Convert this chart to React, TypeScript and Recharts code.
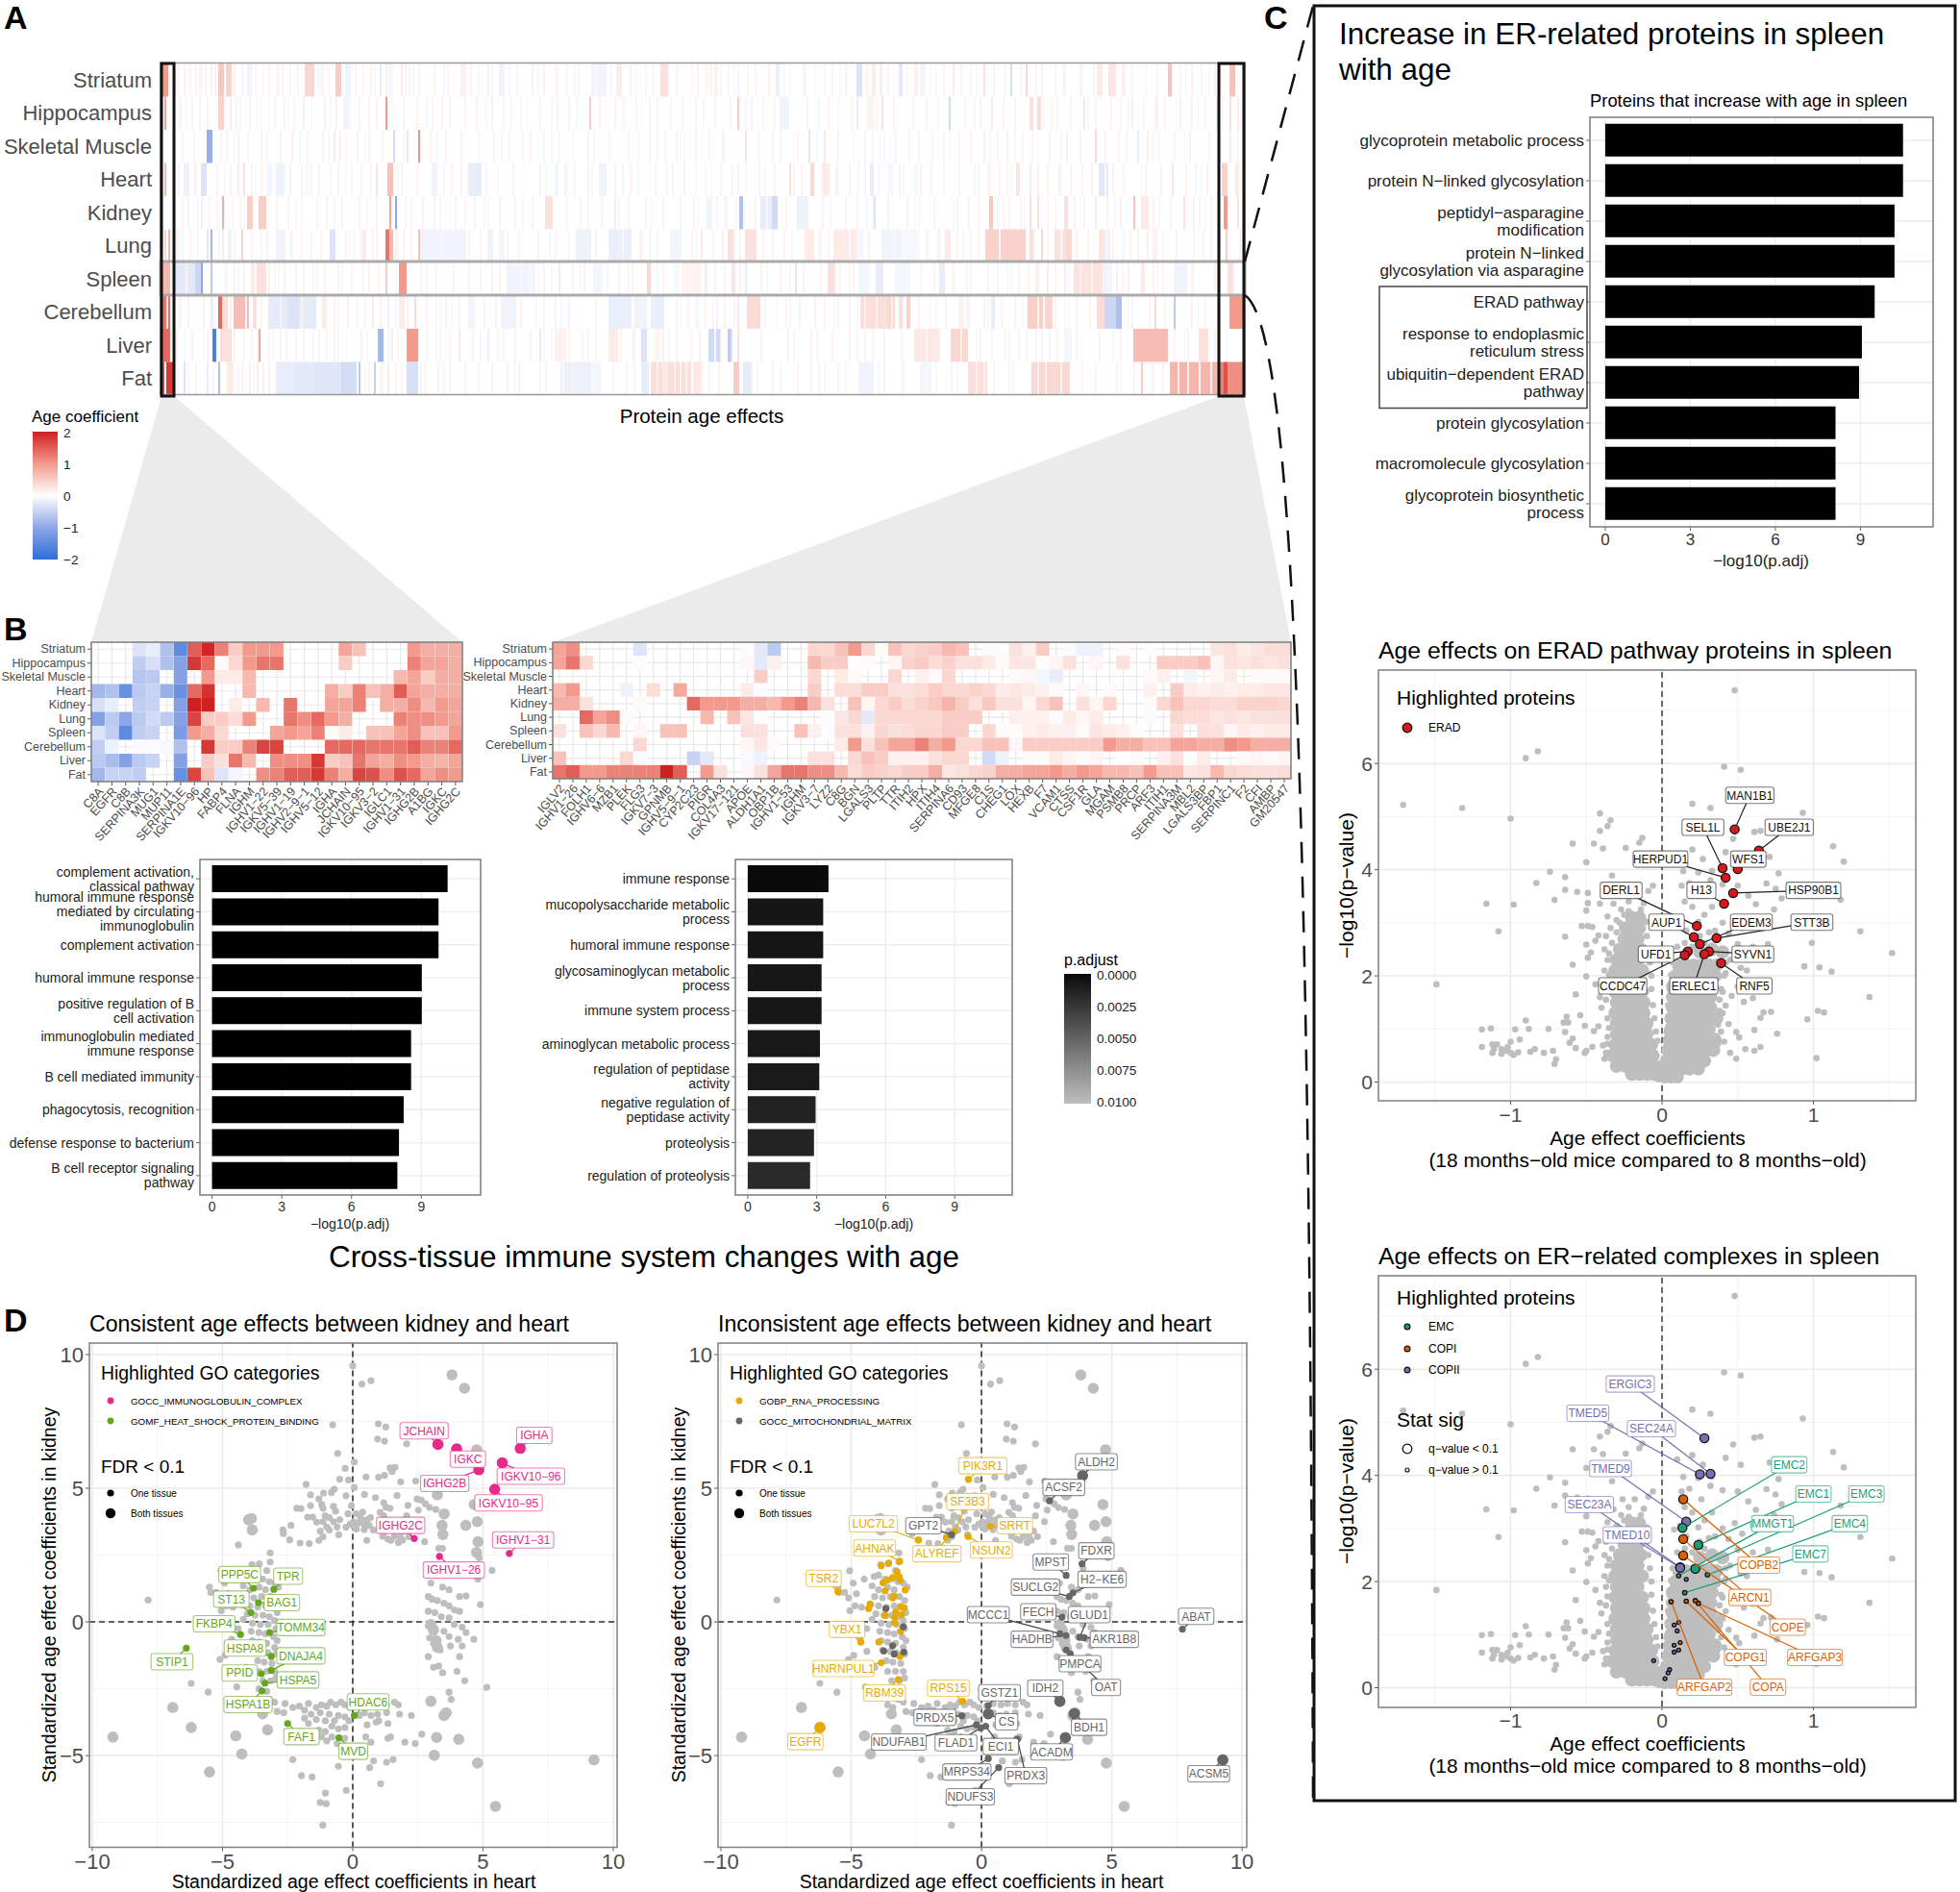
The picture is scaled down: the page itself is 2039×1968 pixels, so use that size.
import { BarChart, Bar, Cell, XAxis, YAxis, CartesianGrid, ScatterChart, Scatter, ReferenceLine } from 'recharts';

const FONT = '"Liberation Sans", Arial, sans-serif';

const tissues = ['Striatum', 'Hippocampus', 'Skeletal Muscle', 'Heart', 'Kidney', 'Lung', 'Spleen', 'Cerebellum', 'Liver', 'Fat'];

// panel A: stripes of the wide heatmap as [first protein rank, number of ranks, age coefficient]
const stripStriatum = [[0,1,-.8],[1,3,1],[9,1,.1],[15,1,.12],[20,1,.12],[26,1,.15],[30,3,.55],[34,3,.45],[45,3,-.12],[53,1,.1],[60,1,.1],[67,1,.12],[75,5,.4],[81,4,-.06],[87,1,.1],[91,3,.5],[96,3,-.12],[105,1,.1],[114,1,-.2],[118,3,-.08],[125,1,.2],[127,1,.12],[156,3,.15],[165,1,.1],[176,3,-.12],[185,1,.1],[205,2,.12],[224,8,-.12],[237,3,.18],[252,1,.1],[256,1,.1],[260,4,.3],[276,1,.1],[283,2,.1],[288,2,.12],[295,1,-.08],[300,1,-.1],[305,1,.1],[320,2,-.18],[327,1,.1],[340,1,.1],[345,1,-.1],[362,3,-.3],[367,1,.12],[370,2,.18],[374,2,.2],[384,2,-.25],[388,1,.1],[392,2,.15],[396,2,-.1],[403,1,.1],[412,1,.2],[421,1,.1],[428,1,.3],[442,1,-.35],[450,1,.4],[455,1,.1],[465,1,.1],[485,1,-.1],[487,3,.2],[493,4,.25],[500,2,.15],[512,1,.1],[524,2,.6],[530,1,.1],[556,3,.6]];
const stripHippocampus = [[0,1,-.4],[2,1,.9],[9,1,-.06],[20,1,-.1],[30,3,.45],[36,1,.2],[41,1,-.08],[50,1,.1],[56,1,-.06],[74,1,-.15],[78,1,.08],[95,3,-.12],[108,1,.15],[117,1,1],[141,1,.1],[150,1,.1],[178,1,.1],[190,1,-.06],[223,1,.5],[240,1,.1],[250,1,-.06],[265,1,.12],[300,1,.5],[322,5,-.12],[362,1,-.2],[368,3,.12],[375,1,.3],[410,1,-.4],[432,1,.2],[452,2,.3],[456,2,.35],[463,1,.12],[480,1,.25],[505,1,-.15],[517,2,.15],[530,1,.15],[543,1,.12],[556,1,.3],[560,1,.2]];
const stripSkeletal = [[24,3,-.9],[34,1,-.12],[45,1,-.08],[90,1,.2],[96,1,.1],[121,1,-.4],[128,1,-.25],[134,1,1.05],[165,1,.1],[173,1,-.1],[214,1,-.06],[254,1,.15],[272,1,.1],[304,1,.3],[337,1,.3],[345,1,.2],[360,1,.08],[374,1,-.08],[410,1,.08],[421,1,.15],[440,1,-.12],[448,1,.1],[486,1,.35],[508,1,-.2],[516,1,.1],[556,1,.2],[560,1,.12]];
const stripHeart = [[0,1,-1.5],[2,1,.7],[12,3,-.15],[21,3,-.3],[40,1,.2],[43,1,.3],[55,3,-.1],[60,5,-.15],[75,3,-.06],[88,1,.1],[99,1,-.1],[112,1,.25],[118,3,.6],[141,3,-.12],[160,7,-.2],[175,1,-.06],[205,2,-.1],[215,1,-.1],[228,4,-.12],[240,1,-.1],[278,1,-.06],[286,1,-.06],[300,1,.15],[304,1,.1],[327,1,.3],[329,1,.1],[338,2,.4],[344,4,.2],[362,2,-.06],[369,2,-.2],[378,3,-.08],[392,2,-.08],[400,2,-.08],[415,1,.12],[430,2,.12],[445,2,.25],[452,1,.2],[456,1,.15],[473,1,.15],[488,5,-.25],[500,2,-.08],[526,1,.25],[538,1,-.1],[552,3,.45],[559,2,.2]];
const stripKidney = [[11,1,.1],[21,1,-.15],[32,1,.8],[45,3,.5],[51,4,.5],[60,1,.12],[81,1,-.1],[119,1,.9],[122,1,-1],[158,1,.1],[170,1,.08],[200,4,.3],[236,1,.2],[270,1,.12],[284,3,-.12],[293,2,-.1],[301,2,-.7],[312,6,-.2],[318,3,-.4],[331,6,-.15],[370,1,-.1],[371,1,-.3],[394,1,.1],[431,2,.55],[438,1,.1],[452,1,.3],[456,1,.3],[470,2,.3],[486,1,.2],[506,1,.6],[510,4,.2],[532,1,.3],[540,1,.15],[553,2,1],[560,1,.3]];
const stripLung = [[0,1,-1.2],[2,1,.4],[4,1,.7],[11,1,-.1],[24,1,-.25],[26,1,-.8],[32,1,.2],[35,2,-.15],[42,1,.45],[60,5,-.12],[88,3,-.3],[100,1,.1],[105,2,.18],[110,1,.15],[117,2,1.3],[119,2,.7],[134,1,.6],[135,24,-.12],[170,3,-.15],[176,3,-.1],[216,8,-.15],[233,12,-.18],[250,1,.12],[265,6,-.1],[281,1,.2],[295,3,.3],[304,6,.3],[318,1,-.08],[328,1,-.08],[335,5,.2],[350,12,.2],[362,4,-.08],[375,10,-.12],[385,10,-.08],[399,1,-.06],[408,3,.2],[429,21,.45],[452,2,.3],[458,1,.4],[465,6,.3],[471,3,.4],[488,3,.25],[491,3,-.15],[500,2,-.08],[508,1,.15],[516,3,.15],[554,1,.5],[561,1,.15]];
const stripSpleen = [[0,1,.3],[1,4,.7],[7,14,-.25],[18,3,-.45],[21,1,-1],[26,1,-.6],[47,2,.2],[50,5,.3],[59,1,.1],[70,1,-.1],[85,1,.15],[117,1,.5],[124,4,1],[152,1,.12],[180,15,-.12],[196,1,.1],[207,1,.2],[225,5,-.1],[232,1,-.1],[253,2,.4],[267,3,-.08],[271,10,.12],[283,1,.2],[297,2,.25],[304,1,-.2],[330,1,.3],[347,4,.3],[363,6,-.1],[372,4,-.2],[382,8,-.1],[405,3,-.2],[440,1,.1],[455,2,.15],[461,1,.2],[470,1,.2],[475,15,.28],[490,5,-.12],[500,1,.1],[510,2,.2],[527,7,-.12],[555,3,.3]];
const stripCerebellum = [[0,1,.4],[1,2,1.3],[3,1,.3],[4,1,1.3],[26,1,-.2],[30,2,1.4],[32,3,.35],[38,8,.65],[48,2,.3],[56,25,-.22],[66,6,-.3],[84,2,.2],[97,1,.15],[110,1,.2],[118,1,-.15],[124,3,.2],[132,1,.35],[143,1,-.08],[160,3,-.12],[177,8,-.13],[195,1,-.06],[205,1,-.1],[233,12,-.18],[247,6,-.13],[255,7,-.18],[278,2,-.1],[289,1,.15],[300,1,.2],[305,7,.35],[320,1,.1],[340,1,.15],[352,1,.12],[364,14,.32],[378,4,.38],[384,3,.3],[388,2,.45],[400,1,.1],[415,3,.12],[432,2,-.2],[451,8,.48],[460,4,.42],[470,1,.1],[487,5,.35],[491,9,-.45],[497,3,-.7],[505,1,.15],[517,1,.4],[527,1,-.6],[556,7,1]];
const stripLiver = [[0,1,-.3],[1,4,1.4],[27,2,-1.7],[31,6,.3],[50,1,.1],[51,1,.9],[70,1,.1],[79,1,-.1],[86,1,-.08],[96,1,-.06],[113,3,-.8],[120,1,.2],[128,6,1],[150,1,.1],[155,1,.2],[170,1,-.15],[197,1,-.2],[205,6,.12],[222,1,.12],[233,5,.2],[250,3,-.3],[257,3,.1],[275,1,.1],[285,6,-.4],[295,2,-.55],[300,1,.3],[370,1,.1],[392,14,.22],[411,9,.4],[432,1,-.08],[450,1,.1],[462,1,-.12],[470,4,-.1],[506,18,.65],[540,5,.32],[554,1,-.06]];
const stripFat = [[0,1,.7],[1,1,1.5],[3,4,1.8],[12,1,-.3],[24,1,-.2],[30,1,-.7],[35,3,.2],[46,1,.2],[50,1,.2],[60,10,-.2],[70,10,-.25],[80,14,-.28],[94,8,-.38],[103,1,-.6],[111,1,-.5],[118,1,.2],[128,6,-.35],[150,1,.1],[180,1,.15],[208,17,-.16],[225,4,-.1],[235,1,.1],[250,4,-.2],[255,6,.32],[261,3,.22],[264,12,.32],[277,4,.22],[298,3,.5],[303,5,-.22],[345,1,.1],[363,8,-.13],[395,6,-.1],[420,10,.32],[453,20,.38],[510,1,.5],[525,26,.72],[551,2,1.2],[553,2,1.6],[555,8,1.1]];
const stripLists = [stripStriatum, stripHippocampus, stripSkeletal, stripHeart, stripKidney, stripLung, stripSpleen, stripCerebellum, stripLiver, stripFat];
const RANKS = 564;

// panel A: thin pale stripes laid over the list above, protein ranks by tissue
const palePink = [
  [7,12,18,23,28,38,42,49,56,63,71,84,101,109,117,129,134,142,149,161,170,181,193,199,211,217,229,244,268,279,286,291,309,316,334,349,356,378,395,407,416,433,447,458,470,478,505,518,536,541,548,551],
  [10,16,24,39,46,59,64,69,85,91,103,112,126,133,146,158,164,172,187,197,206,212,228,236,247,258,271,278,288,296,307,313,336,347,359,372,381,398,418,426,438,444,466,473,486,494,499,511,522,536,549],
  [6,17,31,40,52,62,68,76,84,93,102,108,115,140,148,156,181,192,199,207,222,233,243,262,268,278,285,292,311,322,331,352,366,382,389,401,415,428,435,453,462,471,478,491,498,513,527,535,545],
  [9,18,29,36,47,52,67,73,82,92,104,109,125,133,151,156,183,197,210,222,236,244,257,266,272,291,311,319,333,351,358,366,384,395,407,423,436,440,461,467,479,484,495,512,520,533,544],
  [14,25,37,41,66,73,86,94,103,112,127,136,142,153,163,176,184,193,211,222,229,243,252,261,277,289,309,325,344,356,362,378,388,402,414,420,425,441,447,461,465,475,480,492,499,516,525,537,546],
  [8,15,38,47,55,68,73,83,96,104,112,122,126,130,160,166,180,196,205,226,249,254,276,287,292,301,313,324,343,347,368,398,404,414,421,425,454,461,476,482,495,504,513,521,528,537,546,550],
  [6,13,33,38,43,56,64,74,81,92,99,108,113,135,143,160,172,176,199,214,220,238,245,261,276,279,288,293,301,312,322,334,343,353,360,395,412,419,430,435,446,451,465,478,484,497,503,516,521,536,548],
  [9,14,22,36,52,62,73,90,106,114,128,138,148,155,168,174,187,199,212,226,246,268,274,283,293,314,325,332,345,358,366,372,380,394,408,420,428,437,444,456,465,476,483,505,514,522,536,543,550],
  [8,16,24,38,43,56,62,74,82,90,104,123,138,143,162,175,184,192,203,212,226,239,246,261,268,280,291,312,326,338,349,358,366,376,398,416,426,439,446,455,466,476,488,499,527,534,548],
  [18,34,42,53,56,108,115,122,137,144,158,172,186,200,214,228,242,258,267,273,281,290,307,318,331,342,352,376,386,411,424,428,433,441,456,460,468,479,486,497,506,516,521,529,534,540,546]
];
const paleBlue = [
  [8,21,47,61,83,111,131,147,172,196,215,226,234,247,264,291,298,324,335,353,375,400,424,439,469,479,505,533,545],
  [13,33,52,66,88,98,120,138,169,182,203,216,241,254,282,304,319,342,352,367,391,404,423,459,482,503,528,539,552],
  [11,38,55,72,87,106,126,143,177,188,203,225,248,258,270,293,318,341,370,376,394,407,431,444,468,502,519,532,551],
  [6,17,33,49,64,78,96,123,147,169,200,211,224,248,263,283,297,314,352,373,386,407,425,442,468,491,510,541],
  [7,19,29,43,70,90,107,130,145,168,188,218,238,255,279,299,315,348,367,392,412,435,449,478,496,519,543],
  [9,19,30,52,67,78,98,123,146,177,186,202,212,240,258,278,298,342,358,381,405,417,436,468,492,518,542],
  [34,40,61,79,94,105,122,138,166,187,192,203,218,243,258,284,315,327,358,368,388,402,421,442,472,493,518,537],
  [10,27,44,86,92,102,122,145,151,163,195,208,226,270,287,298,327,350,362,386,403,419,430,448,472,503,522,539],
  [12,22,47,58,65,92,107,118,145,166,178,199,219,245,264,276,288,297,329,341,362,385,405,424,441,458,472,495,532],
  [8,14,27,40,48,106,114,125,135,147,165,184,197,209,224,246,270,285,310,322,338,356,373,385,403,414,443,499,515]
];

// panel B left heatmap: one list per protein, tissues in the order above
const leftProteins = ['C8A','EGFR','C8B','SERPINA3K','MUG1','MUP11','SERPINA1E','IGKV10−96','HP','FABP4','FLNA','IGHM','IGHV1−22','IGKV5−39','IGHV1−19','IGHV2−9−1','IGHV5−12','IGHA','JCHAIN','IGKV10−95','IGKV3−2','IGLC1','IGHV1−31','IGHG2B','A1BG','IGKC','IGHG2C'];
const leftValues = [
  [0,0,0,-.8,-.35,-1.1,-.3,-.55,-.6,-.8],[0,0,0,-.7,-.2,-.6,-.55,-.15,-.75,-.5],[0,0,0,-1.4,0,-1,-1.5,0,-1.1,-.5],
  [-.3,-.55,-.65,-.6,-.55,-.6,-.55,-.05,-.6,-.55],[-.2,-.35,-.6,-.5,-.5,-.4,-.5,-.05,-.5,0],[-.7,-.7,0,-.9,0,-.6,0,-.08,0,0],
  [-1.5,-1.1,-1.1,-1.4,-1.1,-1.1,-1.2,-.7,-1.1,-1.4],[1.5,1.8,0,1.4,2,1.7,1,0,0,1.7],[1.95,1.4,1,1.85,2,.5,.8,1.8,.5,.6],
  [1.2,.05,.2,0,0,.5,.4,.5,.3,-.3],[.5,.4,.2,0,.2,.35,0,.5,1.3,-.1],[1,1,.7,.7,0,1,0,1.2,.7,0],
  [1,1.3,0,0,.7,0,0,1.7,0,1.1],[1,1.3,0,0,0,0,.9,1.7,1.1,1.2],[0,0,0,0,1.3,1.3,1,0,1.1,1.5],
  [0,0,0,0,0,1.1,.9,0,1.1,1.5],[0,0,0,0,0,1.4,1.2,0,1.8,1.8],[0,0,0,.8,.9,1,.05,1.4,.5,1.2],
  [.9,.5,0,.5,.9,.8,.2,1.4,.6,.8],[.6,0,0,1.2,1.2,0,0,1.4,1.3,1.7],[0,0,0,.6,0,0,.6,1.3,.9,1.6],
  [0,0,0,.8,.8,0,.6,1.3,.8,1.1],[0,0,.7,1.5,.8,1.2,.9,1.3,1.1,1.6],[1,1.2,.9,.9,1.1,1.1,1.1,1.5,1,1.4],
  [.8,.9,.5,.8,.7,1.1,.6,1.2,.8,.9],[.8,.9,.8,.8,1,1,.6,1.2,.75,1.1],[.8,.8,.8,.8,.9,.9,1,1.4,.9,1],
];

// panel B right heatmap: one list per tissue
const rightProteins = ['IGLV2','IGHV1−26','FOLH1','IGHV6−6','MZB1','PLEK','FLG3','IGKV7−3','GPNMB','IGHV5−9−1','CYP2C23','PIGR','COL4A3','IGKV17−121','APOE','ALDH1A1','OBP1B','IGHV1−53','IGHM','IGKV3−7','LYZ2','C8G','BGN','LGALS3','PLTP','TTR','ITIH2','HPX','ITIH4','SERPINA6','CD93','MFGE8','C1S','CHEG1','LOX','HEXB','F7','VCAM1','CTSS','CSF1R','GLA','MGAM','PSMB8','PRCP','ARF3','ITIH1','SERPINA3M','MBL2','LGALS3BP','FBP1','SERPINC1','F2','CFI','AMBP','GM20547'];
const rightValues = [
  [.9,1.1,0,0,0,0,-.3,0,0,0,0,0,0,0,-.03,-.25,-.6,0,0,.4,.4,.6,1,.4,.05,.6,.4,.45,.5,.7,.6,0,.05,-.03,.3,.15,.5,0,-.05,-.15,-.15,0,.05,0,-.03,0,0,0,0,.25,.3,.2,.25,.35,.35],
  [.9,1.3,.4,0,0,0,-.02,0,0,0,0,0,0,0,.1,-.25,.15,0,0,.7,.5,.5,.02,.05,0,.1,.45,.5,.35,.45,.3,.3,.2,.05,.25,.25,.03,.1,.3,0,.1,0,.3,0,0,.5,.5,.5,.6,.1,.3,.25,.3,.25,.3],
  [0,0,0,0,0,0,0,0,0,0,0,0,0,0,0,.5,0,0,0,.4,0,.2,.05,0,0,.4,0,.15,.05,.4,0,0,0,0,.05,.1,-.1,-.2,0,0,0,0,0,0,.05,.15,0,-.1,0,.1,.2,0,.05,.05,.05],
  [.7,1,0,0,0,-.15,0,.35,0,.85,0,0,0,0,.2,-.05,0,0,0,.5,0,.35,.35,.5,.5,.3,.3,.35,.5,.4,.4,.45,.4,.2,.25,.2,.15,.05,0,.1,0,.05,0,0,.15,0,.5,.2,.15,.2,.15,.2,.2,.25,.25],
  [.8,.8,.3,0,0,0,.05,0,0,0,1.4,1,1,1,.8,.8,.7,1,1.2,.7,.3,0,.6,.1,.4,.5,.35,.45,.55,.75,.5,.3,.55,.3,.3,.1,.4,.6,0,.3,.1,.4,0,0,.05,.4,.6,.4,.4,.35,.35,.45,.45,.45,.4],
  [0,0,1.4,.9,1.1,.05,0,0,0,0,0,.7,0,.6,.25,-.03,0,0,0,0,-.02,.25,.4,-.25,.4,.4,.4,.4,.4,.5,.5,.5,0,0,.15,.15,.15,-.05,.2,.1,.2,0,0,0,-.05,0,.4,.35,.35,.25,.3,.25,.3,.3,.3],
  [.3,0,.6,.4,.7,0,.1,0,.6,.6,0,0,0,0,.3,.3,0,0,.6,.15,-.03,.3,.3,.15,.4,.3,.35,.4,.4,.5,.5,0,.4,.05,.03,.15,.2,.15,.15,.05,.25,.2,.15,.03,0,0,.3,0,.3,.3,.1,.2,.15,.2,.2],
  [0,0,0,0,0,0,.4,0,0,0,0,0,0,0,.1,.25,.05,0,0,0,0,.2,1,.3,.6,.9,.9,1.2,.8,1,.4,.4,.6,.6,.1,.5,.5,.5,.5,.5,.5,1,.8,.8,.6,.6,.9,.9,.8,.8,1.1,1,.8,.8,.8],
  [.6,0,0,0,0,.4,-.05,0,0,0,-.5,-.25,0,0,-.07,-.15,0,0,0,.3,.3,0,.4,.6,.5,.15,.15,.15,.3,.4,.4,0,-.4,-.15,0,.05,.05,.2,.1,-.05,.1,0,.02,.05,0,.15,.3,-.03,.2,0,0,.05,.1,.05,.1],
  [1.3,1.5,1,1,1.2,1.2,1.2,1.2,2,1.5,0,1,.3,0,.1,.3,.9,1.3,1.3,1.1,1.1,.7,.35,.5,.45,.4,.5,.5,.8,.25,.3,.4,.45,.8,.8,.9,.9,1,.8,1,.9,.7,.7,.6,1,.6,.6,.25,.3,.7,.4,.35,.3,.3,.35],
];

// enrichment bars
const leftTerms = ['complement activation,\nclassical pathway','humoral immune response\nmediated by circulating\nimmunoglobulin','complement activation','humoral immune response','positive regulation of B\ncell activation','immunoglobulin mediated\nimmune response','B cell mediated immunity','phagocytosis, recognition','defense response to bacterium','B cell receptor signaling\npathway'];
const leftEnrich = [10.13,9.74,9.74,9.02,9.02,8.56,8.56,8.24,8.04,7.97];
const rightTerms = ['immune response','mucopolysaccharide metabolic\nprocess','humoral immune response','glycosaminoglycan metabolic\nprocess','immune system process','aminoglycan metabolic process','regulation of peptidase\nactivity','negative regulation of\npeptidase activity','proteolysis','regulation of proteolysis'];
const rightEnrich = [3.51,3.28,3.28,3.21,3.21,3.14,3.11,2.95,2.88,2.71];
const rightEnrichFill = ['#0a0a0a','#151515','#151515','#171717','#171717','#191919','#1a1a1a','#212121','#232323','#2a2a2a'];
const spleenTerms = ['glycoprotein metabolic process','protein N−linked glycosylation','peptidyl−asparagine\nmodification','protein N−linked\nglycosylation via asparagine','ERAD pathway','response to endoplasmic\nreticulum stress','ubiquitin−dependent ERAD\npathway','protein glycosylation','macromolecule glycosylation','glycoprotein biosynthetic\nprocess'];
const spleenEnrich = [10.5,10.5,10.2,10.2,9.5,9.05,8.95,8.12,8.12,8.12];

// panel D shared grey cloud: heart coefficient, kidney coefficient
const greyBoth = [[3.81,9.24],[4.29,8.74],[4.76,6.44],[3.25,4.75],[4.66,4.39],[4.34,3.61],[4.78,3.75],[4.81,3],[3.43,3.61],[3.46,3.27],[3.51,4.04],[-3.89,3.87],[-3.86,3.44],[-4,3.82],[3,-2.97],[3.59,-3.4],[3.5,-3.5],[3.22,-4.32],[4.07,-4.39],[3.13,-4.99],[4.79,-5.28],[5.48,-6.9],[9.26,-5.16],[-6.91,-3.2],[-9.21,-4.31],[-6.2,-3.95],[-4.49,-4.26],[-4.26,-4.94],[-5.5,-5.61],[-3.27,-4.04],[-3.46,-3.44],[4.75,2.6],[3.1,-.3],[3.25,-.95],[3.2,-.7],[3,-.1]];
const greyUpper = [[0,9.58],[.35,8.9],[.7,9.02],[-.77,7.37],[.98,7.41],[1.27,7.29],[.95,6.84],[1.22,6.76],[2.07,6.66],[-.58,6.3],[.06,5.98],[-.29,5.74],[-.5,5.34],[-.16,5.31],[.51,5.42],[.99,5.41],[1.22,5.48],[1.43,5.76],[1.62,5.78],[1.51,5.62],[1.84,5.24],[2.42,5.27],[-1.79,5.14],[-.71,4.96],[.06,5.03],[-1.62,4.75],[-1.12,4.82],[-.82,4.84],[-.26,4.72],[.45,4.77],[.87,4.65],[1.7,4.73],[2.47,4.6],[-1.3,4.6],[-1.19,4.39],[-1.62,4.35],[-2.15,4.25],[-1.99,4.24],[-1.14,4.25],[-.74,4.32],[-.66,4.14],[-.05,4.35],[1.19,4.46],[1.27,4.29],[1.43,4.25],[2.12,4.36],[2.63,4.56],[2.79,4.42],[2.95,4.28],[3.19,4.21],[-1.73,3.92],[-1.54,3.92],[-1.06,3.97],[-.9,3.9],[-.5,3.82],[-.18,4.04],[.14,4.04],[.38,4.11],[.54,3.82],[.3,3.82],[.03,3.75],[.63,3.61],[1.19,3.97],[2.07,3.97],[2.52,4.18],[2.42,3.75],[-1.38,3.73],[-1.14,3.75],[-.74,3.75],[-.26,3.54],[.14,3.47],[.46,3.61],[.79,3.44],[1.19,3.33],[1.83,3.19],[2.15,3.19],[-2.37,3.61],[-2.68,3.44],[-2.66,3.3],[-2.42,3.07],[-2.02,2.95],[-1.67,2.93],[-1.3,3.05],[-1.14,3.19],[-.9,3.44],[-.54,3.26],[.54,3.05],[1.47,3.05],[1.75,2.97],[1.91,3.05],[2.76,3],[-4.39,2.88],[.3,3.9],[.22,3.7],[.44,3.45],[.02,3.6],[-.1,3.66],[-1,3.55],[-1.25,3.4],[-.6,3.55],[.68,3.9],[1.05,4.1],[1.6,3.2],[1.35,3.1],[2,3.4],[1.15,3.2],[3.3,2.75]];
const greyLeft = [[-7.85,.82],[-3.17,2.58],[-3.17,2.24],[-3.59,2.17],[-3.87,2.15],[-3.3,1.92],[-5.06,1.91],[-4.92,1.45],[-5.5,1.3],[-5.45,1.1],[-4.8,1.05],[-4.85,.6],[-5.05,.42],[-4.6,.55],[-4.12,1.7],[-3.95,1.75],[-3.7,1.6],[-3.45,1.6],[-3.2,1.5],[-3,1.45],[-2.85,1.3],[-4.2,1.35],[-3.95,1.2],[-3.6,1.3],[-3.35,1.2],[-4.1,.95],[-3.8,.9],[-3.5,.95],[-3.15,.95],[-2.95,.8],[-4.25,.65],[-3.95,.6],[-3.65,.55],[-3.35,.6],[-3.05,.55],[-2.9,.35],[-4.05,.3],[-3.75,.25],[-3.45,.25],[-3.2,.2],[-3,.05],[-4.2,.1],[-3.85,-.05],[-3.55,-.1],[-3.25,-.1],[-2.95,-.25],[-3.9,-.35],[-3.6,-.4],[-3.35,-.45],[-3.05,-.55],[-2.9,-.7],[-3.85,-.7],[-3.6,-.75],[-3.3,-.8],[-3,-.95],[-4.9,-1.25],[-5.1,-1.4],[-3.8,-1.05],[-3.5,-1.1],[-3.25,-1.15],[-2.95,-1.2],[-3.65,-1.45],[-3.4,-1.5],[-3.1,-1.55],[-3.6,-1.85],[-3.3,-1.85],[-3,-1.85],[-3.45,-2.2],[-3.15,-2.2],[-2.95,-2.1],[-3.3,-2.6],[-3.6,-2.5],[-4.45,-2.43],[-6.2,-2.3],[-5.55,-2.63],[-3.2,-2.9],[-3,-3],[-3.6,-3.1],[-3.4,-3.2],[-2.9,-3.35],[-4.1,-1.7],[-4.4,-1.1],[-4.65,-.65],[-4.4,-.25],[-5.1,.9],[-4.5,1.6],[-5.25,1.1]];
const greyBottom = [[-2.6,-3.05],[-2.3,-3.2],[-2.65,-3.4],[-2.05,-3.15],[-1.85,-3.3],[-1.7,-3.05],[-1.6,-3.45],[-1.4,-3.2],[-1.2,-3.1],[-1,-3.15],[-.85,-3],[-.65,-3.1],[-.45,-3],[-.3,-3.1],[-.1,-3.2],[.2,-3.15],[.45,-3.05],[.75,-3.1],[1,-3.05],[1.3,-3.1],[1.6,-3],[1.75,-3.1],[-1.85,-3.6],[-1.7,-3.8],[-1.4,-3.65],[-1.25,-3.4],[-1.05,-3.7],[-.9,-3.45],[-.7,-3.7],[-.55,-3.5],[-.3,-3.55],[-.15,-3.7],[.25,-3.5],[.45,-3.4],[.7,-3.5],[.95,-3.45],[1.3,-3.4],[1,-3.7],[1.35,-3.8],[1.8,-3.45],[2.25,-3.5],[-1.3,-4.05],[-1.05,-4.1],[-.8,-3.9],[-.55,-4],[-.3,-3.95],[.55,-3.85],[.9,-3.75],[-1.6,-4.45],[-1.2,-4.3],[-1,-4.45],[-.8,-4.3],[-.6,-4.55],[-.3,-4.35],[.5,-4.3],[.7,-4.5],[1.35,-4.35],[1.45,-4.3],[2,-4.5],[2.4,-4.55],[2.65,-4.2],[-2.3,-5.15],[-.55,-5.4],[.8,-5.2],[.65,-5.45],[1.3,-5.25],[1.55,-5.15],[-1.97,-5.75],[-1.56,-5.8],[1.07,-6.05],[-1.05,-6.4],[-.25,-6.3],[-1.25,-6.75],[-1.02,-6.8],[-1.15,-7.6]];
const greyRight = [[3,1.45],[3.45,1.3],[3.7,1.2],[4.1,.95],[4.35,.97],[4.9,.65],[2.9,.95],[3.05,.85],[3.25,.8],[3.5,.7],[3.7,.6],[3.9,.45],[4.1,.4],[2.9,.4],[3.15,.35],[3.4,.2],[3.7,.15],[3.9,-.1],[4.2,-.2],[4.35,-.4],[2.9,-.15],[3.05,-.35],[3.5,-.35],[3.7,-.55],[4.05,-.65],[2.95,-.6],[3.1,-.8],[3.35,-1.05],[4.2,-.9],[2.9,-1.3],[3.1,-1.7],[3.3,-1.65],[3.45,-1.9],[4,-1.85],[4.1,-1.3],[4.65,-.65],[3.75,-.9],[4.3,-2.2],[5.15,-2.45],[3.7,-2.63],[3.78,-2.9],[5.35,1.93],[4.85,2.4],[3.45,2.75],[3.9,2],[4.8,1.6]];
const greyOne = [...greyUpper, ...greyLeft, ...greyBottom, ...greyRight];

// panel D highlighted proteins: name, point x,y, label x,y, 1 when significant in both tissues
const immunoglobulin = [['JCHAIN',3.27,6.64,2.74,7.15,1],['IGKC',3.99,6.47,4.42,6.09,1],['IGHA',6.43,6.49,6.97,6.98,1],['IGKV10−96',5.74,5.95,6.84,5.45,1],['IGHG2B',4.84,5.69,3.53,5.18,1],['IGKV10−95',5.45,4.96,5.98,4.45,1],['IGHG2C',2.36,3.12,1.84,3.61,0],['IGHV1−26',3.33,2.45,3.88,1.94,0],['IGHV1−31',6.01,2.56,6.54,3.07,0]];
const heatShock = [['PPP5C',-3.81,1.26,-4.34,1.77,0],['TPR',-3.03,1.22,-2.48,1.71,0],['ST13',-3.91,.35,-4.66,.85,0],['BAG1',-3.62,.72,-2.72,.72,0],['FKBP4',-4.31,-.47,-5.32,-.07,0],['TOMM34',-3.19,-.4,-1.99,-.21,0],['STIP1',-6.39,-.98,-6.94,-1.49,0],['HSPA8',-3.13,-1.29,-4.13,-.98,0],['DNAJA4',-3.13,-1.81,-1.99,-1.27,0],['PPID',-3.51,-1.94,-4.34,-1.91,0],['HSPA5',-3.37,-2.29,-2.1,-2.17,0],['HSPA1B',-3.48,-2.58,-4.02,-3.09,0],['HDAC6',.06,-3.5,.59,-2.99,0],['FAF1',-2.5,-3.8,-1.97,-4.29,0],['MVD',-.53,-4.33,.02,-4.84,0]];
const rnaProcessing = [['PIK3R1',-.5,5.33,.05,5.84,0],['SF3B3',-1.04,3.37,-.53,4.5,0],['ALYREF',-1.35,3.16,-1.71,2.55,0],['LUC7L2',-2.42,3.06,-4.15,3.67,0],['SRRT',.34,3.58,1.28,3.6,0],['NSUN2',-.51,3.19,.38,2.69,0],['AHNAK',-3.14,2.27,-4.1,2.76,0],['TSR2',-5.51,1.13,-6.06,1.63,0],['YBX1',-4.63,-.76,-5.16,-.28,0],['HNRNPUL1',-3.85,-1.53,-5.3,-1.74,0],['RBM39',-3.19,-2.15,-3.72,-2.66,0],['RPS15',-.72,-2.97,-1.27,-2.48,0],['EGFR',-6.2,-3.95,-6.76,-4.48,1]];
const rnaExtra = [[-3.85,2.1],[-3.56,2.2],[-3.24,1.88],[-3.16,1.7],[-3.4,1.66],[-3.62,1.56],[-3.78,1.46],[-3.12,1.56],[-2.93,1.19],[-3.7,1.16],[-3.35,.96],[-3.41,.89],[-4.28,.67],[-4.33,.5],[-3.11,.57],[-2.96,.52],[-3.29,.38],[-3.06,.28],[-3.69,.24],[-3.33,.17],[-3.32,-.03],[-3.11,-.35],[-3.94,-.75],[-3.13,-1.29]];
const mitoMatrix = [['GPT2',-1.15,3.26,-2.23,3.6,0],['ALDH2',3.88,5.47,4.41,5.99,1],['ACSF2',2.61,4.53,3.16,5.03,0],['FDXR',3.86,2.17,4.41,2.66,0],['MPST',3.25,1.74,2.66,2.24,0],['H2−KE6',3.51,1.09,4.63,1.59,0],['SUCLG2',3.37,.95,2.07,1.3,0],['FECH',3.09,.18,2.18,.38,0],['GLUD1',3.77,-.58,4.13,.27,0],['MCCC1',3.01,-.44,.26,.27,0],['HADHB',3.25,-.51,1.94,-.65,0],['AKR1B8',3.94,-.59,5.1,-.65,0],['ABAT',7.71,-.27,8.24,.21,0],['PMPCA',3.25,-1.05,3.78,-1.56,0],['OAT',3.41,-1.2,4.78,-2.45,0],['IDH2',3.01,-2.97,2.45,-2.48,1],['GSTZ1',.26,-3.13,.69,-2.65,0],['BDH1',3.56,-3.43,4.13,-3.94,1],['PRDX5',-.75,-3.51,-1.79,-3.57,0],['CS',.26,-3.44,.96,-3.74,1],['ECI1',.16,-3.9,.74,-4.66,0],['NDUFAB1',-.19,-3.85,-3.17,-4.49,0],['FLAD1',-.03,-3.97,-.98,-4.52,0],['ACADM',3.22,-4.33,2.69,-4.86,1],['PRDX3',1.38,-4.39,1.7,-5.75,0],['MRPS34',.26,-5.11,-.56,-5.61,0],['NDUFS3',.66,-5.45,-.43,-6.54,0],['ACSM5',9.26,-5.16,8.72,-5.68,1]];
const mitoExtra = [[-3.67,.5],[-3,-.18],[-3.41,-.89],[-3.75,-1.09],[-3.35,-1.2],[-2.98,-1.13]];

// panel C volcano grey cloud: coefficient, -log10(p)
const volcanoSpread = [[.48,7.38],[-.82,6.23],[-.9,6.1],[.41,5.94],[.52,5.88],[-1.71,5.22],[-1.32,5.16],[.2,5.24],[.32,5.16],[.93,5.07],[-.41,5.06],[-1,4.96],[-.34,4.93],[-.36,4.82],[-.41,4.73],[.61,4.71],[.65,4.73],[-.13,4.6],[-.15,4.51],[-.59,4.49],[-.45,4.49],[-.39,4.4],[-.24,4.41],[1.13,4.44],[1.2,4.15],[.71,4.24],[-.5,4.14],[-.74,3.96],[-.64,3.86],[-.33,3.89],[.77,3.93],[-.83,3.75],[.69,3.74],[-.64,3.62],[-.56,3.58],[-.49,3.56],[-.71,3.43],[.75,3.64],[.79,3.46],[1.18,3.43],[-1.16,3.36],[-.98,3.34],[-.49,3.37],[-.5,3.23],[-.41,3.36],[-.32,3.36],[-.36,3.12],[.74,3.25],[.57,3.51],[.62,3.35],[-1.08,2.84],[1.31,2.84],[-.53,2.94],[-.49,2.94],[-.46,2.92],[-.64,2.74],[-.42,2.76],[.99,2.62],[-.44,2.66],[-.5,2.59],[1.52,2.43],[-.47,2.44],[-.49,2.34],[-.59,2.21],[.94,2.18],[1.04,2.16],[1.12,2.08],[-.5,1.99],[-1.49,1.84],[-.44,1.84],[1.37,1.6],[-.57,1.65],[-.41,1.6],[1.03,1.34],[1.07,1.31],[.96,1.18],[.67,1.31],[.72,1.32],[-.54,1.26],[-.63,1.23],[-.9,1.16],[-.65,1.12],[-.62,1.12],[-.51,1.06],[-1.19,.99],[-1.13,1.01],[-.97,.99],[-.88,1],[-.75,1],[-.64,.94],[-.45,.96],[-.94,.8],[-1,.76],[-.59,.82],[-.61,.74],[.76,.91],[.61,.98],[-1.19,.66],[-1.12,.71],[-1.09,.71],[-1.11,.62],[-1.06,.62],[-1.02,.66],[-1.03,.59],[-1,.55],[-1.12,.55],[-1.06,.53],[-.95,.56],[-.98,.51],[-.87,.57],[-.84,.62],[-.78,.55],[-.72,.59],[-.7,.43],[-.71,.34],[-.57,.64],[-.51,.55],[-.5,.59],[-.46,.66],[-.39,.69],[-.38,.44],[.55,.62],[.61,.59],[.65,.66],[1.02,.45],[.49,.44],[.45,.55],[.41,.76],[.49,.94],[.44,1.09],[.51,.84],[.38,1.34],[.42,1.44],[.6,1.58],[.54,1.51],[.46,1.62],[.65,1.21],[.34,1.16],[.4,1.7],[.5,1.8],[.56,2.1],[.6,2.55],[.7,2.6],[.45,2.3],[.52,2.15],[.42,2.05],[.5,2.6],[.35,2.85],[.44,2.8],[.53,2.9],[.4,3],[.48,3.1],[.6,3.05],[.28,3.15],[.33,3.3],[.2,3.3],[.15,3.4],[.26,3.55],[.18,3.75],[.13,3.7],[.32,3.8],[.4,3.72],[.5,3.7],[.14,3.97],[.24,3.95],[.33,3.98],[.27,4.2],[.1,4.3],[.2,4.38],[.42,4.33],[.47,4.58],[.52,4.2],[.12,3.05],[.08,2.98],[.24,3.02],[-.27,3.25],[-.22,3.4],[-.12,3.37],[-.18,3.55],[-.09,3.6],[-.26,3.55],[-.06,3.7],[-.3,3.05],[-.34,2.9],[-.37,2.75],[-.38,2.5],[-.36,2.3],[-.38,2.1],[-.37,1.9],[-.4,1.4],[-.36,1.2],[-.42,1.05],[-.36,.85]];
const volcanoEdges = [[-.37,.55],[-.36,.72],[-.35,1.02],[-.37,1.55],[-.36,1.72],[-.35,2.02],[-.35,2.42],[-.33,2.62],[-.3,2.82],[-.28,3],[-.25,3.15],[-.22,3.22],[-.14,3.25],[-.1,3.02],[-.1,2.75],[-.09,2.5],[-.08,2.25],[-.07,2],[-.07,1.75],[-.06,1.45],[-.05,1.2],[-.04,.95],[-.03,.78],[.03,.72],[.03,.95],[.04,1.2],[.04,1.45],[.05,1.75],[.06,2.02],[.07,2.25],[.1,2.55],[.15,2.62],[.2,2.55],[.28,2.62],[.37,.72],[.39,.95],[.37,1.08],[.4,1.3],[.38,1.55],[.39,1.75],[.41,2],[.42,2.25],[.31,2.82],[.25,2.75],[.16,2.85]];
const volcanoLeftLobe = [[-.2,.15],[-.15,.15],[-.1,.15],[-.05,.15],[-.02,.12],[-.3,.3],[-.24,.3],[-.18,.3],[-.12,.3],[-.07,.3],[-.03,.28],[-.33,.5],[-.27,.5],[-.21,.5],[-.15,.5],[-.1,.5],[-.06,.5],[-.31,.7],[-.26,.7],[-.21,.7],[-.16,.7],[-.11,.7],[-.07,.7],[-.3,.9],[-.25,.9],[-.2,.9],[-.15,.9],[-.1,.9],[-.3,1.1],[-.25,1.1],[-.2,1.1],[-.15,1.1],[-.1,1.1],[-.31,1.3],[-.26,1.3],[-.21,1.3],[-.16,1.3],[-.12,1.3],[-.3,1.5],[-.25,1.5],[-.2,1.5],[-.15,1.5],[-.12,1.5],[-.31,1.7],[-.26,1.7],[-.21,1.7],[-.16,1.7],[-.13,1.7],[-.3,1.9],[-.25,1.9],[-.2,1.9],[-.16,1.9],[-.31,2.1],[-.26,2.1],[-.21,2.1],[-.17,2.1],[-.13,2.1],[-.3,2.3],[-.25,2.3],[-.2,2.3],[-.16,2.3],[-.28,2.5],[-.23,2.5],[-.18,2.5],[-.14,2.5],[-.25,2.7],[-.2,2.7],[-.16,2.7],[-.24,2.9],[-.19,2.9],[-.15,2.9],[-.2,3.1],[-.15,3.1]];
const volcanoRightLobe = [[.02,.1],[.06,.1],[.1,.1],[.03,.25],[.08,.25],[.13,.25],[.18,.25],[.24,.25],[.03,.4],[.08,.4],[.13,.4],[.18,.4],[.23,.4],[.28,.4],[.04,.6],[.09,.6],[.14,.6],[.19,.6],[.24,.6],[.29,.6],[.34,.6],[.05,.8],[.1,.8],[.15,.8],[.2,.8],[.25,.8],[.3,.8],[.35,.8],[.06,1],[.11,1],[.16,1],[.21,1],[.26,1],[.31,1],[.06,1.2],[.11,1.2],[.16,1.2],[.21,1.2],[.26,1.2],[.31,1.2],[.36,1.2],[.07,1.4],[.12,1.4],[.17,1.4],[.22,1.4],[.27,1.4],[.32,1.4],[.07,1.6],[.12,1.6],[.17,1.6],[.22,1.6],[.27,1.6],[.32,1.6],[.07,1.8],[.12,1.8],[.17,1.8],[.22,1.8],[.27,1.8],[.33,1.8],[.09,2],[.14,2],[.19,2],[.24,2],[.29,2],[.35,2],[.11,2.2],[.16,2.2],[.21,2.2],[.26,2.2],[.31,2.2],[.36,2.2],[.25,2.45],[.33,2.5],[.4,2.45]];

// panel C highlighted proteins: name, point x,y, label x,y, 1 for q-value < 0.1
const eradGenes = [['MAN1B1',.48,4.76,.58,5.4,1],['SEL1L',.4,4.03,.27,4.8,1],['UBE2J1',.64,4.36,.84,4.8,1],['HERPUD1',.42,3.85,-.01,4.2,1],['WFS1',.5,4.01,.57,4.2,1],['H13',.41,3.36,.26,3.61,1],['HSP90B1',.47,3.56,1,3.61,1],['DERL1',.23,2.94,-.27,3.61,1],['AUP1',.21,2.73,.03,3.01,1],['EDEM3',.25,2.6,.59,3.01,1],['STT3B',.36,2.71,.99,3.01,1],['SYVN1',.31,2.46,.6,2.41,1],['UFD1',.17,2.46,-.04,2.41,1],['CCDC47',.15,2.39,-.26,1.81,1],['ERLEC1',.28,2.41,.21,1.81,1],['RNF5',.39,2.24,.61,1.81,1]];
const copiiGenes = [['ERGIC3',.28,4.7,-.21,5.72,1],['TMED5',.25,4.02,-.49,5.17,1],['SEC24A',.32,4.03,-.07,4.88,1],['TMED9',.16,3.13,-.34,4.13,1],['SEC23A',.12,2.27,-.48,3.45,1],['TMED10',.12,2.26,-.23,2.88,1]];
const emcGenes = [['EMC2',.135,3.01,.84,4.2,1],['EMC1',.24,2.69,1,3.65,1],['EMC3',.22,2.24,1.35,3.65,1],['MMGT1',.11,2.11,.73,3.09,0],['EMC4',.3,2.13,1.24,3.09,0],['EMC7',.15,1.79,.98,2.52,0]];
const copiGenes = [['COPB2',.14,3.55,.64,2.31,1],['ARCN1',.14,2.8,.58,1.7,1],['COPE',.14,2.49,.83,1.14,1],['COPG1',.16,1.63,.55,.57,0],['ARFGAP3',.24,1.59,1.01,.57,0],['COPA',.22,1.64,.7,.01,0],['ARFGAP2',.06,1.62,.28,.01,0]];
const copiiSmall = [[.16,2.04],[.08,1.18],[.1,1.07],[.08,.8],[.11,.71],[.08,.67],[-.055,.51],[.05,.34],[.04,.28],[.02,.17]];
const copiSmall = [[.11,1.23],[.12,.85]];

const PINK = '#e7298a', GREEN = '#66a61e', GOLD = '#e6ab02', DARK = '#666666', TEAL = '#1b9e77', ORANGE = '#d95f02', PURPLE = '#7570b3';

const mix = (a: number[], b: number[], t: number) => {
  const c = a.map((v, i) => Math.round(v + (b[i] - v) * t));
  return `rgb(${c[0]},${c[1]},${c[2]})`;
};
const heat = (v: number) => {
  if (!v) return 'none';
  if (v > 0) return v <= 1 ? mix([255, 255, 255], [243, 154, 141], v) : mix([243, 154, 141], [207, 32, 32], Math.min(v - 1, 1));
  return v >= -1 ? mix([255, 255, 255], [142, 166, 230], -v) : mix([142, 166, 230], [47, 111, 214], Math.min(-v - 1, 1));
};
const minus = (v: number) => String(v).replace('-', '−');
const toPts = (l: number[][]) => l.map(([x, y]) => ({ x, y }));

const Dot = (r: number, fill: string, stroke = 'none') => (p: any) => <circle cx={p.cx} cy={p.cy} r={r} fill={fill} stroke={stroke} strokeWidth={stroke === 'none' ? 0 : 1.3} />;
const NoDot = () => <g />;

const labelBox = (line: string, text: string, boxOpacity = 0.6) => (p: any) => {
  const name = p.payload.name as string;
  const w = name.length * 6.7 + 10;
  return (
    <g>
      <rect x={p.cx - w / 2} y={p.cy - 8.5} width={w} height={17} rx={2.5} fill="#fff" stroke={line} strokeOpacity={boxOpacity} strokeWidth={1.1} />
      <text x={p.cx} y={p.cy + 4.3} textAnchor="middle" fontSize={12} fontFamily={FONT} fill={text}>{name}</text>
    </g>
  );
};

const connectors = (list: any[], color: string) => list.map(g => (
  <Scatter key={`c${g[0]}`} data={[{ x: g[1], y: g[2] }, { x: g[3], y: g[4] }]} line={{ stroke: color, strokeWidth: 1.2 }} shape={NoDot} isAnimationActive={false} />
));
const labelsOf = (list: any[]) => list.map(g => ({ name: g[0], x: g[3], y: g[4] }));

const Frame = ({ x, y, w, h, color = '#7f7f7f', sw = 1.5 }: any) => <rect x={x} y={y} width={w} height={h} fill="none" stroke={color} strokeWidth={sw} />;
const T = ({ x, y, s, a = 'start', c = '#000', r, w, children }: any) => (
  <text x={x} y={y} fontSize={s} textAnchor={a} fill={c} fontWeight={w} fontFamily={FONT} dominantBaseline="central" transform={r ? `rotate(${r} ${x} ${y})` : undefined}>{children}</text>
);

const Wrapped = ({ size, gap, fill }: any) => (p: any) => {
  const lines = String(p.payload.value).split('\n');
  const y0 = p.y - ((lines.length - 1) * gap) / 2;
  return (
    <text fontSize={size} fontFamily={FONT} fill={fill} textAnchor="end" dominantBaseline="central">
      {lines.map((l, i) => <tspan key={i} x={p.x} y={y0 + i * gap}>{l}</tspan>)}
    </text>
  );
};
const Slanted = (p: any) => (
  <text x={p.x + 3} y={p.y + 2} fontSize={12.5} fontFamily={FONT} fill="#4d4d4d" textAnchor="end" dominantBaseline="central" transform={`rotate(-48 ${p.x + 3} ${p.y + 2})`}>{p.payload.value}</text>
);
const TissueTick = (size: number) => (p: any) => (
  <text x={p.x} y={p.y} fontSize={size} fontFamily={FONT} fill="#4d4d4d" textAnchor="end" dominantBaseline="central">{tissues[Math.floor(p.payload.value)]}</text>
);

const place = (left: number, top: number) => ({ position: 'absolute' as const, left, top });

const EnrichBars = ({ x, y, w, h, terms, values, fills, domain, yW, size, gap, inset, tickSize, tickY }: any) => {
  const data = terms.map((t: string, i: number) => ({ term: t, value: values[i] }));
  return (
    <div style={place(x - yW, y)}>
      <BarChart width={yW + w + 4} height={h + 30} data={data} layout="vertical" barCategoryGap="9%" margin={{ top: 0, right: 4, bottom: 0, left: 0 }}>
        <CartesianGrid stroke="#ececec" strokeWidth={1.3} />
        <XAxis type="number" dataKey="value" domain={domain} ticks={[0, 3, 6, 9]} interval={0} height={30} axisLine={false} tickSize={4} tickMargin={tickY} tick={{ fontSize: tickSize, fill: '#333', fontFamily: FONT }} />
        <YAxis type="category" dataKey="term" width={yW} interval={0} axisLine={false} tickSize={4} tickMargin={2} padding={{ top: inset, bottom: inset }} tick={Wrapped({ size, gap, fill: '#222' })} />
        <Bar dataKey="value" isAnimationActive={false}>
          {data.map((d: any, i: number) => <Cell key={d.term} fill={fills ? fills[i] : '#000'} />)}
        </Bar>
      </BarChart>
    </div>
  );
};

const rowTicks = tissues.map((_, i) => i + 0.5);

const HeatB = ({ x, w, h, yW, proteins, valueAt }: any) => {
  const data = proteins.map((name: string) => {
    const row: any = { name };
    tissues.forEach(t => { row[t] = 1; });
    return row;
  });
  return (
    <div style={place(x - yW, 668)}>
      <BarChart width={yW + w + 4} height={h + 80} data={data} barCategoryGap={0} barGap={0} margin={{ top: 0, right: 4, bottom: 0, left: 0 }}>
        <CartesianGrid stroke="#e8e8e8" strokeWidth={1.2} />
        <XAxis dataKey="name" interval={0} height={80} axisLine={false} tickSize={4} tick={Slanted} stroke="#555" />
        <YAxis type="number" domain={[0, 10]} ticks={rowTicks} reversed interval={0} width={yW} axisLine={false} tickSize={4} tickMargin={2} tick={TissueTick(12.5)} stroke="#555" />
        {tissues.map((t, ti) => (
          <Bar key={t} dataKey={t} stackId="h" isAnimationActive={false}>
            {proteins.map((p: string, c: number) => <Cell key={p} fill={heat(valueAt(ti, c))} />)}
          </Bar>
        ))}
      </BarChart>
    </div>
  );
};

const WideHeat = () => {
  const rows = stripLists.map((list, ti) => {
    const vals = new Array(RANKS).fill(0);
    list.forEach(([s, n, v]) => { for (let i = s; i < s + n && i < RANKS; i++) vals[i] = v; });
    palePink[ti].forEach(i => { if (Math.abs(vals[i]) < .8) vals[i] = .13; });
    paleBlue[ti].forEach(i => { if (Math.abs(vals[i]) < .8) vals[i] = -.08; });
    return vals;
  });
  const data = rows[0].map((_, i) => {
    const row: any = { rank: i };
    tissues.forEach(t => { row[t] = 1; });
    return row;
  });
  return (
    <div style={place(0, 65.5)}>
      <BarChart width={1295} height={345} data={data} barCategoryGap={0} barGap={0} margin={{ top: 0, right: 0, bottom: 0, left: 0 }}>
        <XAxis dataKey="rank" hide />
        <YAxis type="number" domain={[0, 10]} ticks={rowTicks} reversed interval={0} width={167} axisLine={false} tickLine={false} tickSize={0} tickMargin={9} tick={TissueTick(22)} />
        {tissues.map((t, ti) => (
          <Bar key={t} dataKey={t} stackId="h" isAnimationActive={false}>
            {rows[ti].map((v, c) => <Cell key={c} fill={heat(v)} />)}
          </Bar>
        ))}
      </BarChart>
    </div>
  );
};

const greyOneDots = Dot(3.6, '#bebebe');
const greyBothDots = Dot(5.8, '#bebebe');

const sizedDots = (list: any[], color: string, small: number, big: number, stroke = 'none') => [
  <Scatter key={`${color}s`} data={list.filter(g => !g[5]).map(g => ({ x: g[1], y: g[2] }))} shape={Dot(small, color, stroke)} isAnimationActive={false} />,
  <Scatter key={`${color}b`} data={list.filter(g => g[5]).map(g => ({ x: g[1], y: g[2] }))} shape={Dot(big, color, stroke)} isAnimationActive={false} />,
];

const scatterAxes = (xd: number[], yd: number[], xt: number[], yt: number[], yW: number, xH: number, size: number, xMinor: number[], yMinor: number[]) => [
  <CartesianGrid key="g1" stroke="#f3f3f3" strokeWidth={1} verticalValues={xMinor} horizontalValues={yMinor} />,
  <CartesianGrid key="g2" stroke="#ebebeb" strokeWidth={1.6} verticalValues={xt} horizontalValues={yt} />,
  <XAxis key="x" type="number" dataKey="x" domain={xd} ticks={xt} interval={0} height={xH} axisLine={false} allowDataOverflow stroke="#555" tickSize={4} tickMargin={3} tickFormatter={minus} tick={{ fontSize: size, fill: '#4d4d4d', fontFamily: FONT }} />,
  <YAxis key="y" type="number" dataKey="y" domain={yd} ticks={yt} interval={0} width={yW} axisLine={false} allowDataOverflow stroke="#555" tickSize={4} tickMargin={2} tickFormatter={minus} tick={{ fontSize: size, fill: '#4d4d4d', fontFamily: FONT }} />,
];

const KidneyHeart = ({ x, w, xDomain, series }: any) => (
  <div style={place(x - 50, 1397 - 12)}>
    <ScatterChart width={50 + w + 24} height={12 + 524.5 + 36} margin={{ top: 12, right: 24, bottom: 0, left: 0 }}>
      {scatterAxes(xDomain, [-8.43, 10.43], [-10, -5, 0, 5, 10], [-5, 0, 5, 10], 50, 36, 22, [-7.5, -2.5, 2.5, 7.5], [-7.5, -2.5, 2.5, 7.5])}
      <Scatter data={toPts(greyOne)} shape={greyOneDots} isAnimationActive={false} />
      <Scatter data={toPts(greyBoth)} shape={greyBothDots} isAnimationActive={false} />
      <ReferenceLine x={0} stroke="#333" strokeWidth={1.6} strokeDasharray="6 4" />
      <ReferenceLine y={0} stroke="#333" strokeWidth={1.6} strokeDasharray="6 4" />
      {series}
    </ScatterChart>
  </div>
);

const Volcano = ({ y, series }: any) => (
  <div style={place(1434 - 46, y - 12)}>
    <ScatterChart width={46 + 559 + 24} height={12 + 448 + 36} margin={{ top: 12, right: 24, bottom: 0, left: 0 }}>
      {scatterAxes([-1.873, 1.676], [-.353, 7.76], [-1, 0, 1], [0, 2, 4, 6], 46, 36, 21, [-1.5, -.5, .5, 1.5], [1, 3, 5, 7])}
      <Scatter data={toPts(volcanoLeftLobe)} shape={Dot(7, '#bebebe')} isAnimationActive={false} />
      <Scatter data={toPts(volcanoRightLobe)} shape={Dot(7, '#bebebe')} isAnimationActive={false} />
      <Scatter data={toPts(volcanoEdges)} shape={Dot(3.3, '#bebebe')} isAnimationActive={false} />
      <Scatter data={toPts(volcanoSpread)} shape={Dot(3.3, '#bebebe')} isAnimationActive={false} />
      <ReferenceLine x={0} stroke="#333" strokeWidth={1.4} strokeDasharray="6 4" />
      {series}
    </ScatterChart>
  </div>
);

const geneSeries = (list: any[], line: string, text: string, dot: any[]) => [
  ...connectors(list, line),
  ...dot,
  <Scatter key={`l${line}${text}`} data={labelsOf(list)} shape={labelBox(line, text)} isAnimationActive={false} />,
];

export default function App() {
  return (
    <div style={{ position: 'absolute', left: 0, top: 0, width: 2039, height: 1968, background: '#fff', overflow: 'hidden' }}>
      <svg width={2039} height={1968} style={{ position: 'absolute', left: 0, top: 0 }}>
        <polygon points="168,412 181,412 481,668 95,668" fill="#ebebeb" />
        <polygon points="1268,412 1294,412 1343,668 575,668" fill="#ebebeb" />
      </svg>

      <WideHeat />
      <HeatB x={95} w={386} h={145} yW={95} proteins={leftProteins} valueAt={(t: number, c: number) => leftValues[c][t]} />
      <HeatB x={575} w={768} h={142} yW={95} proteins={rightProteins} valueAt={(t: number, c: number) => rightValues[t][c] ?? 0} />

      <EnrichBars x={208} y={894} w={292} h={349} terms={leftTerms} values={leftEnrich} domain={[-.52, 11.55]} yW={208} size={14} gap={15} inset={3} tickSize={14} tickY={3} />
      <EnrichBars x={765} y={894} w={288} h={349} terms={rightTerms} values={rightEnrich} fills={rightEnrichFill} domain={[-.54, 11.5]} yW={205} size={14} gap={15} inset={3} tickSize={14} tickY={3} />
      <EnrichBars x={1654} y={122} w={357} h={426} terms={spleenTerms} values={spleenEnrich} domain={[-.54, 11.56]} yW={250} size={17} gap={18} inset={3} tickSize={17} tickY={3} />

      <KidneyHeart x={93} w={549} xDomain={[-10.11, 10.15]} series={[
        ...geneSeries(immunoglobulin, PINK, PINK, sizedDots(immunoglobulin, PINK, 3.6, 5.8)),
        ...geneSeries(heatShock, GREEN, GREEN, sizedDots(heatShock, GREEN, 3.6, 5.8)),
      ]} />
      <KidneyHeart x={747} w={550} xDomain={[-10.11, 10.18]} series={[
        <Scatter key="rna" data={toPts(rnaExtra)} shape={Dot(3.6, GOLD)} isAnimationActive={false} />,
        <Scatter key="mito" data={toPts(mitoExtra)} shape={Dot(3.6, DARK)} isAnimationActive={false} />,
        ...geneSeries(rnaProcessing, GOLD, GOLD, sizedDots(rnaProcessing, GOLD, 3.6, 5.8)),
        ...geneSeries(mitoMatrix, '#444', DARK, sizedDots(mitoMatrix, DARK, 3.6, 5.8)),
      ]} />

      <Volcano y={697} series={geneSeries(eradGenes, '#222', '#111', [
        <Scatter key="erad" data={eradGenes.map(g => ({ x: g[1], y: g[2] }))} shape={Dot(4.6, '#d7191c', '#111')} isAnimationActive={false} />,
      ])} />
      <Volcano y={1327} series={[
        <Scatter key="cs" data={toPts(copiiSmall)} shape={Dot(2, PURPLE, '#111')} isAnimationActive={false} />,
        <Scatter key="os" data={toPts(copiSmall)} shape={Dot(2, ORANGE, '#111')} isAnimationActive={false} />,
        ...geneSeries(copiiGenes, PURPLE, PURPLE, sizedDots(copiiGenes, PURPLE, 2.2, 4.6, '#111')),
        ...geneSeries(emcGenes, TEAL, TEAL, sizedDots(emcGenes, TEAL, 2.2, 4.6, '#111')),
        ...geneSeries(copiGenes, ORANGE, ORANGE, sizedDots(copiGenes, ORANGE, 2.2, 4.6, '#111')),
      ]} />

      <svg width={2039} height={1968} style={{ position: 'absolute', left: 0, top: 0, pointerEvents: 'none' }}>
        <defs>
          <linearGradient id="ageScale" x1="0" y1="0" x2="0" y2="1">
            <stop offset="0" stopColor="#cf2020" />
            <stop offset="0.25" stopColor="#f39a8d" />
            <stop offset="0.5" stopColor="#ffffff" />
            <stop offset="0.75" stopColor="#8ea6e6" />
            <stop offset="1" stopColor="#2f6fd6" />
          </linearGradient>
          <linearGradient id="padjScale" x1="0" y1="0" x2="0" y2="1">
            <stop offset="0" stopColor="#0a0a0a" />
            <stop offset="1" stopColor="#bebebe" />
          </linearGradient>
        </defs>

        {/* panel letters */}
        <T x={4} y={18} s={34} w="bold">A</T>
        <T x={4} y={654} s={34} w="bold">B</T>
        <T x={1315} y={18} s={34} w="bold">C</T>
        <T x={4} y={1373} s={34} w="bold">D</T>

        {/* panel A furniture */}
        <Frame x={167} y={65.5} w={1128} h={345} color="#999" sw={1.5} />
        <Frame x={167} y={272} w={1128} h={35} color="#aaaaaa" sw={3} />
        <Frame x={168} y={66} w={13} h={346} color="#111" sw={3} />
        <Frame x={1268} y={66} w={26} h={346} color="#111" sw={3} />
        <T x={730} y={432} s={20.5} a="middle">Protein age effects</T>
        <T x={33} y={433} s={17}>Age coefficient</T>
        <rect x={34} y={449} width={26} height={133} fill="url(#ageScale)" />
        {[[2, 450], [1, 483], [0, 516], [-1, 549], [-2, 582]].map(([v, y]) => <T key={v} x={66} y={y} s={13.5} c="#222">{minus(v)}</T>)}

        {/* panel B furniture */}
        <Frame x={95} y={668} w={386} h={145} />
        <Frame x={575} y={668} w={768} h={142} />
        <Frame x={208} y={894} w={292} h={349} />
        <Frame x={765} y={894} w={288} h={349} />
        <T x={364} y={1273} s={14} a="middle" c="#222">−log10(p.adj)</T>
        <T x={909} y={1273} s={14} a="middle" c="#222">−log10(p.adj)</T>
        <T x={1107} y={998} s={16}>p.adjust</T>
        <rect x={1107} y={1013} width={28} height={135} fill="url(#padjScale)" />
        {[['0.0000', 1014], ['0.0025', 1047], ['0.0050', 1080], ['0.0075', 1113], ['0.0100', 1146]].map(([l, y]) => <T key={l} x={1141} y={y} s={13.5} c="#222">{l}</T>)}
        <T x={670} y={1307} s={31.4} a="middle">Cross-tissue immune system changes with age</T>

        {/* panel C box and the dashed guides */}
        <rect x={1367} y={6} width={667} height={1867} fill="none" stroke="#111" strokeWidth={3} />
        <path d="M1295,272 L1366,6" fill="none" stroke="#111" strokeWidth={2.5} strokeDasharray="22 14" />
        <path d="M1295,307 C1345,340 1362,800 1366,1873" fill="none" stroke="#111" strokeWidth={2.5} strokeDasharray="22 14" />
        <T x={1393} y={35} s={31.4}>Increase in ER-related proteins in spleen</T>
        <T x={1393} y={72} s={31.4}>with age</T>
        <T x={1654} y={104} s={18.4}>Proteins that increase with age in spleen</T>
        <Frame x={1654} y={122} w={357} h={426} />
        <Frame x={1435} y={298} w={216} h={126.5} color="#444" sw={1.5} />
        <T x={1832} y={583} s={17} a="middle" c="#222">−log10(p.adj)</T>

        <T x={1434} y={676} s={24.8}>Age effects on ERAD pathway proteins in spleen</T>
        <Frame x={1434} y={697} w={559} h={448} />
        <T x={1453} y={725} s={21}>Highlighted proteins</T>
        <circle cx={1464} cy={757} r={4.8} fill="#d7191c" stroke="#111" strokeWidth={1.3} />
        <T x={1486} y={757} s={12}>ERAD</T>
        <T x={1714} y={1183} s={20.9} a="middle">Age effect coefficients</T>
        <T x={1714} y={1206} s={20.9} a="middle">(18 months−old mice compared to 8 months−old)</T>
        <T x={1400} y={921} s={21} a="middle" r={-90}>−log10(p−value)</T>

        <T x={1434} y={1306} s={24.8}>Age effects on ER−related complexes in spleen</T>
        <Frame x={1434} y={1327} w={559} h={449} />
        <T x={1453} y={1349} s={21}>Highlighted proteins</T>
        {[['EMC', TEAL, 1380], ['COPI', ORANGE, 1403], ['COPII', PURPLE, 1425]].map(([l, c, y]) => (
          <g key={l as string}>
            <circle cx={1464} cy={y as number} r={2.9} fill={c as string} stroke="#111" strokeWidth={1.2} />
            <T x={1486} y={y} s={12}>{l}</T>
          </g>
        ))}
        <T x={1453} y={1476} s={21}>Stat sig</T>
        <circle cx={1464} cy={1507} r={4.8} fill="#fff" stroke="#111" strokeWidth={1.3} />
        <T x={1486} y={1507} s={12}>q−value &lt; 0.1</T>
        <circle cx={1464} cy={1529} r={2} fill="#fff" stroke="#111" strokeWidth={1.2} />
        <T x={1486} y={1529} s={12}>q−value &gt; 0.1</T>
        <T x={1714} y={1813} s={20.9} a="middle">Age effect coefficients</T>
        <T x={1714} y={1836} s={20.9} a="middle">(18 months−old mice compared to 8 months−old)</T>
        <T x={1400} y={1551} s={21} a="middle" r={-90}>−log10(p−value)</T>

        {/* panel D furniture */}
        <T x={93} y={1377} s={23.1}>Consistent age effects between kidney and heart</T>
        <T x={747} y={1377} s={23.1}>Inconsistent age effects between kidney and heart</T>
        <Frame x={93} y={1397} w={549} h={524.5} />
        <Frame x={747} y={1397} w={550} h={524.5} />
        {[[93, PINK, GREEN, 'GOCC_IMMUNOGLOBULIN_COMPLEX', 'GOMF_HEAT_SHOCK_PROTEIN_BINDING'], [747, GOLD, DARK, 'GOBP_RNA_PROCESSING', 'GOCC_MITOCHONDRIAL_MATRIX']].map(([px, c1, c2, l1, l2]) => {
          const x = px as number;
          return (
            <g key={l1 as string}>
              <T x={x + 12} y={1428} s={19.4}>Highlighted GO categories</T>
              <circle cx={x + 22} cy={1457} r={3.4} fill={c1 as string} />
              <T x={x + 43} y={1457} s={9.8}>{l1}</T>
              <circle cx={x + 22} cy={1478} r={3.4} fill={c2 as string} />
              <T x={x + 43} y={1478} s={9.8}>{l2}</T>
              <T x={x + 12} y={1525} s={19}>FDR &lt; 0.1</T>
              <circle cx={x + 22} cy={1553} r={3.6} fill="#000" />
              <T x={x + 43} y={1553} s={10}>One tissue</T>
              <circle cx={x + 22} cy={1574} r={5.2} fill="#000" />
              <T x={x + 43} y={1574} s={10}>Both tissues</T>
            </g>
          );
        })}
        <T x={368} y={1957} s={19.5} a="middle">Standardized age effect coefficients in heart</T>
        <T x={1021} y={1957} s={19.5} a="middle">Standardized age effect coefficients in heart</T>
        <T x={51} y={1659} s={19.5} a="middle" r={-90}>Standardized age effect coefficients in kidney</T>
        <T x={706} y={1659} s={19.5} a="middle" r={-90}>Standardized age effect coefficients in kidney</T>
      </svg>
    </div>
  );
}
